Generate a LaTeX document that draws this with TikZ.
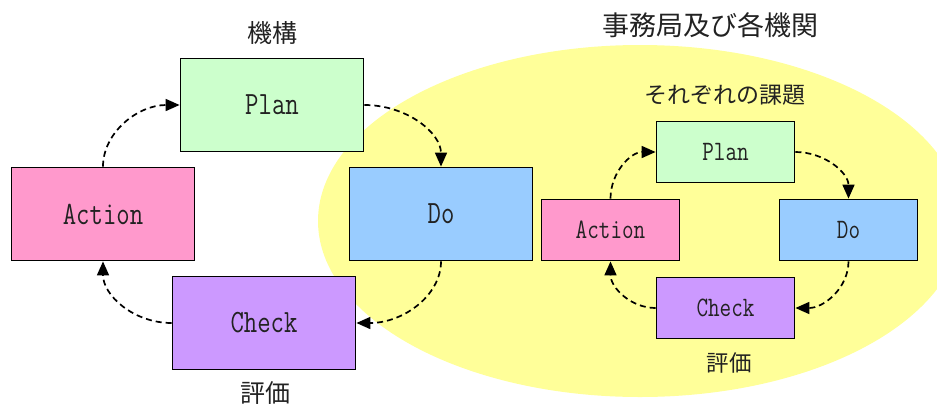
\documentclass[tikz,border=0pt]{standalone}
\usepackage{fontspec}
\newfontfamily\jp{Noto Sans CJK JP}
\usetikzlibrary{arrows.meta}
\definecolor{cplan}{HTML}{CCFFCC}
\definecolor{caction}{HTML}{FF99CC}
\definecolor{cdo}{HTML}{99CCFF}
\definecolor{ccheck}{HTML}{CC99FF}
\definecolor{cyel}{HTML}{FFFF99}
\definecolor{ctext}{HTML}{222222}
\newcommand\tallt[1]{\scalebox{1}[1.25]{#1}}
\tikzset{
  bigbox/.style={draw=black, line width=1.8pt, minimum width=183pt, minimum height=93pt, inner sep=0pt, text=ctext, font=\ttfamily\fontsize{26}{30}\selectfont},
  smallbox/.style={draw=black, line width=1.8pt, minimum width=138pt, minimum height=61pt, inner sep=0pt, text=ctext, font=\ttfamily\fontsize{22.5}{26}\selectfont},
  conn/.style={line width=1.7pt, dash pattern=on 6pt off 4pt, -{Triangle[length=14pt,width=12pt]}},
  lbl/.style={text=ctext, inner sep=0pt}
}
\begin{document}
\begin{tikzpicture}[x=1pt,y=-1pt]
\useasboundingbox (0,0) rectangle (937,405);
\begin{scope}
  \clip (0,0) rectangle (937,405);
  \fill[cyel] (640,221) ellipse [x radius=322, y radius=176];
\end{scope}
% left cycle
\node[bigbox, fill=cplan]   (p1) at (272,105) {\tallt{Plan}};
\node[bigbox, fill=caction] (a1) at (103,214) {\tallt{Action}};
\node[bigbox, fill=cdo]     (d1) at (441,214) {\tallt{Do}};
\node[bigbox, fill=ccheck]  (c1) at (264,323) {\tallt{Check}};
\node[lbl, font=\jp\fontsize{25}{28}\selectfont] (t1) at (272,33) {機構};
\node[lbl, font=\jp\fontsize{25}{28}\selectfont] (e1) at (265,393) {評価};
\draw[conn] (a1.north) .. controls +(0,-34) and +(-42,0) .. (p1.west);
\draw[conn] (p1.east) .. controls +(42,0) and +(0,-34) .. (d1.north);
\draw[conn] (d1.south) .. controls +(0,34) and +(47,0) .. (c1.east);
\draw[conn] (c1.west) .. controls +(-38,0) and +(0,34) .. (a1.south);
% right cycle
\node[smallbox, fill=cplan]   (p2) at (725.5,152) {\tallt{Plan}};
\node[smallbox, fill=caction] (a2) at (610.5,230) {\tallt{Action}};
\node[smallbox, fill=cdo]     (d2) at (848.5,230) {\tallt{Do}};
\node[smallbox, fill=ccheck]  (c2) at (725.5,308) {\tallt{Check}};
\node[lbl, font=\jp\fontsize{27}{30}\selectfont] (t2) at (710,25) {事務局及び各機関};
\node[lbl, font=\jp\fontsize{23}{26}\selectfont] (t3) at (725,95) {それぞれの課題};
\node[lbl, font=\jp\fontsize{22.5}{26}\selectfont] (e2) at (729,363) {評価};
\draw[conn] (a2.north) .. controls +(0,-26) and +(-25,0) .. (p2.west);
\draw[conn] (p2.east) .. controls +(29,0) and +(0,-26) .. (d2.north);
\draw[conn] (d2.south) .. controls +(0,26) and +(29,0) .. (c2.east);
\draw[conn] (c2.west) .. controls +(-25,0) and +(0,26) .. (a2.south);
\end{tikzpicture}
\end{document}
